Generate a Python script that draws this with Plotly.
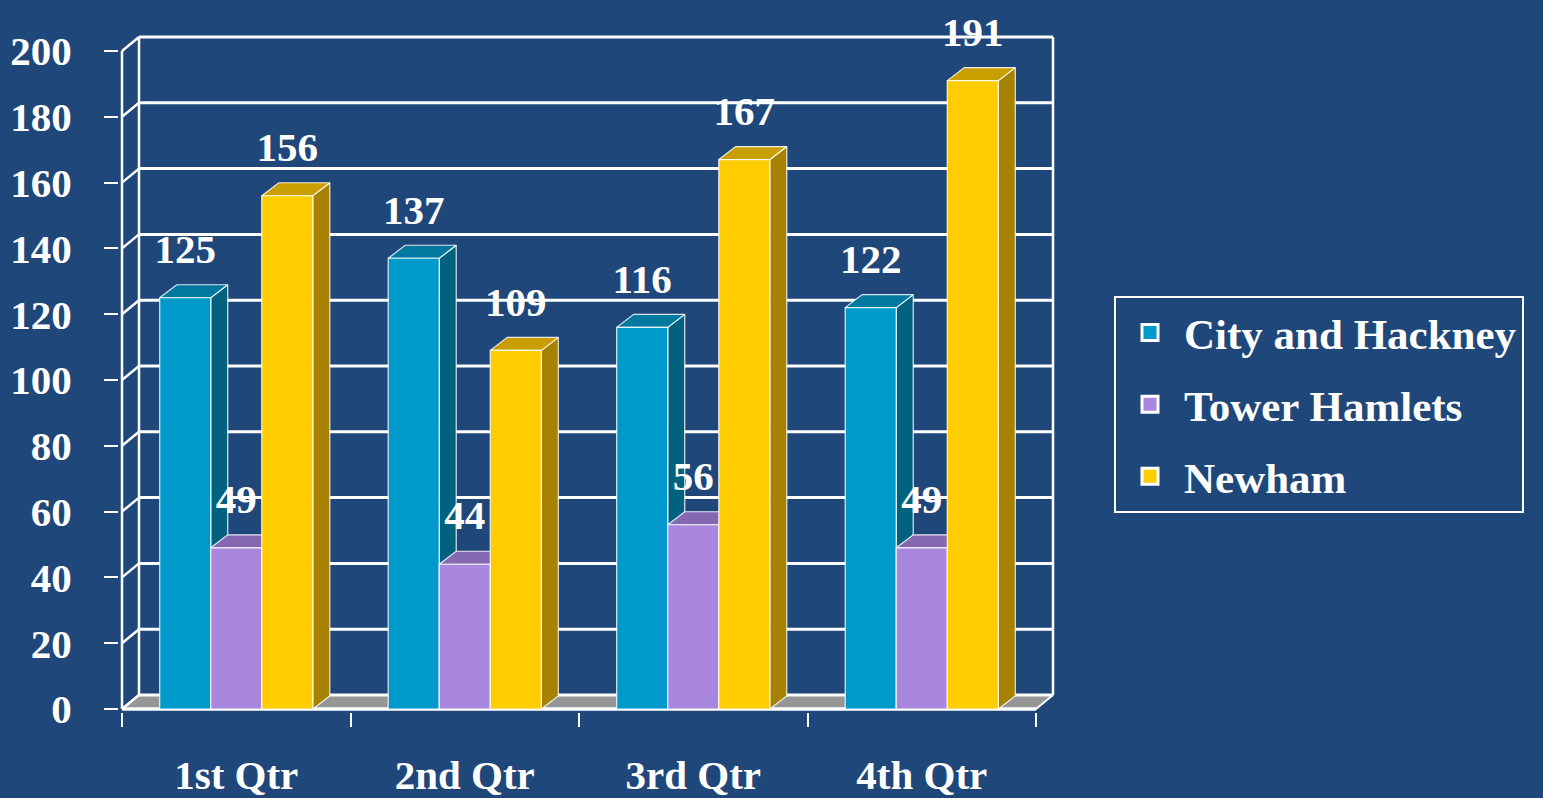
import plotly.graph_objects as go

# ---------------- data ----------------
categories = ["1st Qtr", "2nd Qtr", "3rd Qtr", "4th Qtr"]
series_names = ["City and Hackney", "Tower Hamlets", "Newham"]
city_hackney = [125, 137, 116, 122]
tower_hamlets = [49, 44, 56, 49]
newham = [156, 109, 167, 191]
y_ticks = [0, 20, 40, 60, 80, 100, 120, 140, 160, 180, 200]

# ---------------- style ----------------
BG = "#20477A"
FRONT = ["#0099CC", "#A987DF", "#FFCC00"]
TOP = ["#00789F", "#8468B2", "#C99E00"]
SIDE = ["#00627F", "#6F58A0", "#A68200"]
WHITE = "#FFFFFF"
FLOOR = "#969696"
FONT = dict(family="Liberation Serif, Times New Roman, serif", color=WHITE, size=41, weight="bold")

W, H = 1543, 798
PX_X = 228.5          # pixels per category
PX_Y = 3.29           # pixels per value unit
ZERO_PX_X, ZERO_PX_Y = 122, 709
LEFT_PX, RIGHT_PX, TOP_PX, BOTTOM_PX = 119, 1062, 0, 712

n = len(categories)
x_range = [(LEFT_PX - ZERO_PX_X) / PX_X, (RIGHT_PX - ZERO_PX_X) / PX_X]
y_range = [(ZERO_PX_Y - BOTTOM_PX) / PX_Y, (ZERO_PX_Y - TOP_PX) / PX_Y]

BAR_GAP = 0.33
bw = (1 - BAR_GAP) / 3
bdx, bdy = 17 / PX_X, 13 / PX_Y      # bar depth
wdx, wdy = 17 / PX_X, 14 / PX_Y      # wall depth
label_off = 45 / PX_Y

fig = go.Figure()


def add_path(xs, ys, color, width, fill=None, fillcolor=None):
    fig.add_trace(go.Scatter(x=xs, y=ys, mode="lines", line=dict(color=color, width=width),
                             fill=fill, fillcolor=fillcolor, hoverinfo="skip", showlegend=False))


ymax = y_ticks[-1]

# floor
add_path([0, n, n + wdx, wdx, 0], [0, 0, wdy, wdy, 0], WHITE, 2, fill="toself", fillcolor=FLOOR)

# back wall gridlines
gx, gy = [], []
for v in y_ticks:
    gx += [wdx, n + wdx, None]
    gy += [v + wdy, v + wdy, None]
add_path(gx, gy, WHITE, 3)

# back wall vertical edges + connectors from front axis
ex, ey = [wdx, wdx, None, n + wdx, n + wdx, None], [wdy, ymax + wdy, None, wdy, ymax + wdy, None]
for v in y_ticks:
    ex += [0, wdx, None]
    ey += [v, v + wdy, None]
add_path(ex, ey, WHITE, 2.5)

# front axis line and front floor edge
add_path([0, 0], [0, ymax], WHITE, 2.5)
add_path([0, n], [0, 0], WHITE, 3.5)

# bars
all_series = [city_hackney, tower_hamlets, newham]
for si, vals in enumerate(all_series):
    fx, fy, sx, sy, tx, ty = [], [], [], [], [], []
    for ci, v in enumerate(vals):
        x0 = ci + 0.5 - 1.5 * bw + si * bw
        x1 = x0 + bw
        fx += [x0, x1, x1, x0, x0, None]
        fy += [0, 0, v, v, 0, None]
        sx += [x1, x1 + bdx, x1 + bdx, x1, x1, None]
        sy += [0, bdy, v + bdy, v, 0, None]
        tx += [x0, x1, x1 + bdx, x0 + bdx, x0, None]
        ty += [v, v, v + bdy, v + bdy, v, None]
    add_path(sx, sy, "rgba(255,255,255,0.85)", 1.2, fill="toself", fillcolor=SIDE[si])
    add_path(tx, ty, "rgba(255,255,255,0.85)", 1.2, fill="toself", fillcolor=TOP[si])
    add_path(fx, fy, "rgba(255,255,255,0.85)", 1.2, fill="toself", fillcolor=FRONT[si])

# data labels
for si, vals in enumerate(all_series):
    xs = [ci + 0.5 - 1.5 * bw + si * bw + bw / 2 for ci in range(n)]
    ys = [v + label_off for v in vals]
    fig.add_trace(go.Scatter(x=xs, y=ys, mode="text", text=[str(v) for v in vals],
                             textposition="middle center", textfont=FONT,
                             cliponaxis=False, hoverinfo="skip", showlegend=False))

# legend entries
for si, name in enumerate(series_names):
    fig.add_trace(go.Scatter(x=[None], y=[None], mode="markers", name=name, legendgroup=name,
                             marker=dict(symbol="square", size=16, color=FRONT[si],
                                         line=dict(color=WHITE, width=3))))

plot_w = RIGHT_PX - LEFT_PX
plot_h = BOTTOM_PX - TOP_PX

fig.update_layout(
    width=W, height=H,
    margin=dict(l=LEFT_PX, r=W - RIGHT_PX, t=TOP_PX, b=H - BOTTOM_PX, autoexpand=False),
    paper_bgcolor=BG, plot_bgcolor=BG,
    font=FONT,
    showlegend=True,
    legend=dict(x=(1114 - LEFT_PX) / plot_w, xanchor="left",
                y=(BOTTOM_PX - 296) / plot_h, yanchor="top",
                bgcolor=BG, bordercolor=WHITE, borderwidth=2,
                font=dict(family=FONT["family"], color=WHITE, size=43, weight="bold"),
                tracegroupgap=13, itemwidth=58),
    xaxis=dict(range=x_range, showgrid=False, zeroline=False, showline=False, automargin=False,
               tickmode="array", tickvals=[i + 0.5 for i in range(n)], ticktext=categories,
               ticks="", ticklabelstandoff=35, tickfont=FONT,
               minor=dict(tickmode="array", tickvals=list(range(n + 1)), ticks="outside",
                          ticklen=14, tickwidth=2, tickcolor=WHITE, showgrid=False)),
    yaxis=dict(range=y_range, showgrid=False, zeroline=False, showline=False, automargin=False,
               tickmode="array", tickvals=y_ticks, ticks="outside", ticklen=14,
               tickwidth=2, tickcolor=WHITE, tickfont=FONT, ticklabelstandoff=24),
)

fig.write_html("out.html")
